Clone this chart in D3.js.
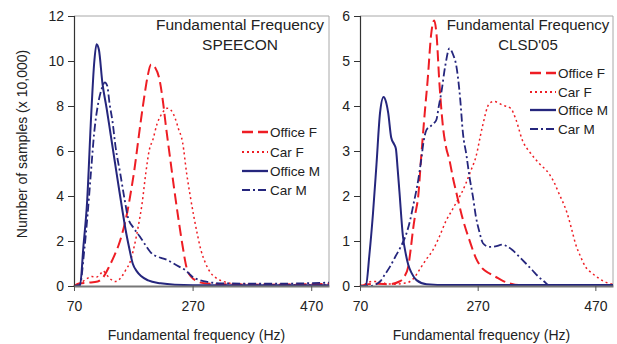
<!DOCTYPE html>
<meta charset="utf-8">
<script src="https://d3js.org/d3.v7.min.js"></script>
<style>
body { margin: 0; background: white; }
svg { font-family: 'Liberation Sans', Arial, sans-serif; }
</style>
<body>
<div id="chart"></div>
<script>
// series names and styles
var seriesNames = ["Office F", "Car F", "Office M", "Car M"];
var xTicks = [70, 270, 470];

// SPEECON panel: [frequency Hz, samples x 10,000]
var officeF_speecon = [[70,0],[80,0.12],[95,0.15],[110,0.2],[120,0.42],[130,0.9],[138,1.35],[145,1.8],[152,2.4],[160,3.3],[166,4.2],[172,5.2],[178,6.4],[183,7.4],[189,8.5],[194,9.3],[200,9.85],[207,9.7],[214,9.2],[220,8.2],[225,7.1],[232,5.7],[239,4.3],[246,3.0],[253,1.8],[260,0.8],[268,0.4],[277,0.22],[290,0.12],[320,0.08],[400,0.06],[500,0.1]];
var carF_speecon = [[70,0],[80,0.1],[90,0.3],[100,0.42],[108,0.4],[115,0.55],[119,0.67],[125,0.5],[132,0.3],[140,0.2],[150,0.4],[157,0.7],[165,1.1],[171,1.7],[178,2.6],[185,3.7],[191,5.0],[197,6.05],[203,6.5],[210,7.2],[218,7.65],[227,7.9],[234,7.8],[240,7.5],[246,7.0],[253,6.4],[260,5.0],[266,4.0],[272,3.1],[278,2.3],[284,1.6],[292,1.0],[300,0.6],[310,0.35],[322,0.2],[340,0.1],[500,0.05]];
var officeM_speecon = [[70,0],[80,0],[86,1.8],[92,3.7],[99,7.6],[104,9.9],[108,10.75],[112,10.5],[118,9.0],[125,7.9],[132,6.7],[139,5.5],[146,4.3],[152,3.3],[157,2.5],[163,1.7],[169,1.0],[176,0.65],[183,0.44],[195,0.25],[216,0.12],[240,0.06],[300,0.03],[500,0.03]];
var carM_speecon = [[70,0],[80,0.05],[87,1.5],[93,3.2],[99,5.2],[104,6.8],[110,8.0],[116,8.7],[122,9.05],[126,8.9],[130,8.1],[135,7.3],[140,6.2],[148,5.0],[155,3.9],[161,3.05],[170,2.6],[181,2.2],[191,1.8],[201,1.45],[211,1.3],[221,1.22],[230,1.12],[238,1.0],[248,0.85],[258,0.7],[264,0.55],[269,0.42],[280,0.28],[295,0.18],[320,0.12],[400,0.1],[500,0.15]];

// CLSD'05 panel
var officeF_clsd = [[70,0],[80,0.03],[100,0.05],[120,0.04],[137,0.1],[145,0.2],[152,0.43],[156,0.8],[160,1.24],[164,1.6],[169,2.0],[174,2.87],[180,3.84],[185,4.58],[191,5.6],[196,5.9],[200,5.6],[205,4.5],[211,3.54],[216,3.1],[222,2.8],[228,2.4],[234,2.06],[245,1.47],[256,1.02],[267,0.62],[278,0.39],[290,0.28],[301,0.2],[312,0.12],[324,0.06],[340,0.02],[500,0.02]];
var carF_clsd = [[70,0],[80,0.05],[90,0.1],[104,0.1],[115,0.05],[130,0.04],[145,0.06],[155,0.1],[163,0.2],[171,0.36],[182,0.58],[194,0.8],[205,1.1],[217,1.47],[225,1.65],[233,1.84],[242,2.05],[250,2.28],[258,2.55],[267,2.87],[278,3.54],[290,4.06],[298,4.1],[312,4.02],[326,3.95],[335,3.7],[346,3.24],[360,2.95],[374,2.73],[391,2.5],[400,2.3],[408,2.06],[422,1.62],[430,1.25],[436,0.95],[445,0.65],[453,0.43],[465,0.28],[476,0.17],[493,0.06],[500,0.04]];
var officeM_clsd = [[70,0],[80,0],[86,0.7],[92,1.6],[98,2.7],[104,3.84],[110,4.2],[114,4.1],[118,3.84],[123,3.3],[128,3.15],[131,3.05],[134,2.6],[137,2.1],[143,1.1],[148,0.7],[152,0.47],[158,0.28],[166,0.13],[183,0.04],[220,0.02],[500,0.02]];
var carM_clsd = [[70,0],[87,0],[104,0.1],[112,0.25],[121,0.43],[130,0.65],[138,0.84],[149,1.17],[155,1.45],[160,1.76],[169,2.36],[174,2.8],[178,3.2],[183,3.47],[190,3.55],[196,3.62],[200,3.7],[204,4.0],[208,4.28],[215,4.9],[222,5.28],[228,5.15],[234,4.87],[240,4.2],[245,3.39],[251,2.9],[256,2.43],[262,1.98],[267,1.54],[273,1.2],[279,0.95],[290,0.87],[300,0.88],[312,0.92],[320,0.88],[329,0.8],[340,0.66],[352,0.5],[363,0.35],[374,0.2],[383,0.1],[391,0.02],[500,0]];

var red = "#ee1d24", navy = "#25267d";
var styles = [
  {color: red, width: 2, dash: "11,5"},
  {color: red, width: 1.5, dash: "2,3"},
  {color: navy, width: 2, dash: null},
  {color: navy, width: 1.8, dash: "8,3,2,3"}
];

var svg = d3.select("#chart").append("svg")
  .attr("width", 617).attr("height", 344);

function drawPanel(opt) {
  var x = d3.scaleLinear().domain([70, 500]).range([opt.left, opt.right]);
  var y = d3.scaleLinear().domain([0, opt.ymax]).range([286, 16]);
  var g = svg.append("g");

  // plot area border (top/right)
  g.append("path")
    .attr("d", "M" + opt.left + ",16H" + opt.right + "V286")
    .attr("fill", "none").attr("stroke", "#a8a8a8").attr("stroke-width", 1);

  var line = d3.line().x(d => x(d[0])).y(d => y(d[1])).curve(d3.curveMonotoneX);
  opt.series.forEach(function(s, i) {
    var st = styles[i];
    g.append("path").datum(s)
      .attr("d", line)
      .attr("fill", "none")
      .attr("stroke", st.color)
      .attr("stroke-width", st.width)
      .attr("stroke-dasharray", st.dash);
  });

  // axes
  var ya = g.append("g").attr("transform", "translate(" + opt.left + ",0)")
    .call(d3.axisLeft(y).ticks(opt.ymax === 12 ? 6 : 6).tickSize(6).tickPadding(4));
  ya.select(".domain").attr("stroke", "#333").attr("stroke-width", 1.2);
  ya.selectAll(".tick line").attr("stroke", "#333");
  ya.selectAll("text").attr("font-size", 14).attr("fill", "#222")
    .attr("font-family", "'Liberation Sans', Arial, sans-serif");

  var xa = g.append("g").attr("transform", "translate(0,286)")
    .call(d3.axisBottom(x).tickValues(xTicks).tickSize(5).tickSizeOuter(0).tickPadding(10));
  xa.select(".domain").attr("stroke", "#777").attr("stroke-width", 2);
  xa.selectAll(".tick line").attr("stroke", "#555");
  xa.selectAll("text").attr("font-size", 14).attr("fill", "#222")
    .attr("font-family", "'Liberation Sans', Arial, sans-serif");

  // title
  var t = g.append("text").attr("text-anchor", "middle").attr("font-size", opt.tsize).attr("fill", "#222");
  t.append("tspan").attr("x", opt.tx).attr("y", 30).text("Fundamental Frequency");
  t.append("tspan").attr("x", opt.tx).attr("y", 50).text(opt.title);

  // legend
  seriesNames.forEach(function(name, i) {
    var st = styles[i], ly = opt.ly[i];
    g.append("line").attr("x1", opt.lx).attr("x2", opt.lx + 26)
      .attr("y1", ly).attr("y2", ly)
      .attr("stroke", st.color).attr("stroke-width", st.width + 0.3)
      .attr("stroke-dasharray", st.dash);
    g.append("text").attr("x", opt.lx + 28).attr("y", ly + 5)
      .attr("font-size", 13.5).attr("fill", "#222").text(name);
  });

  g.append("text").attr("x", (opt.left + opt.right) / 2 - 5).attr("y", 340)
    .attr("text-anchor", "middle").attr("font-size", 14).attr("fill", "#222")
    .text("Fundamental frequency (Hz)");
}

drawPanel({left: 74, right: 329, ymax: 12, title: "SPEECON", tx: 240, tsize: 15.5,
  lx: 242, ly: [132, 152, 171, 190],
  series: [officeF_speecon, carF_speecon, officeM_speecon, carM_speecon]});
drawPanel({left: 360, right: 613, ymax: 6, title: "CLSD'05", tx: 528, tsize: 15,
  lx: 530, ly: [73, 92, 110, 129],
  series: [officeF_clsd, carF_clsd, officeM_clsd, carM_clsd]});

svg.append("text").attr("transform", "translate(27,144) rotate(-90)")
  .attr("text-anchor", "middle").attr("font-size", 14).attr("fill", "#222")
  .text("Number of samples (x 10,000)");
</script>
</body>
